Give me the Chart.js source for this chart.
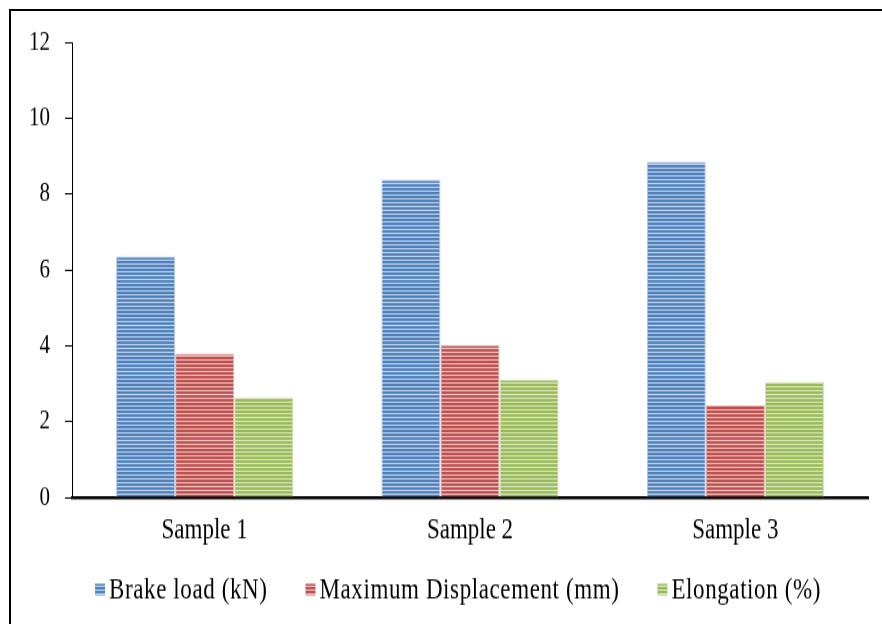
<!DOCTYPE html>
<html>
<head>
<meta charset="utf-8">
<script src="https://cdn.jsdelivr.net/npm/chart.js@4.4.1/dist/chart.umd.min.js"></script>
<style>
  html, body { margin: 0; padding: 0; background: #ffffff; overflow: hidden; }
  #page { width: 882px; height: 624px; position: relative; overflow: hidden; }
  #plot { position: absolute; left: 0; top: 0; width: 882px; height: 488px;
          transform: scale(1, 1.2787); transform-origin: 0 0; }
  #frame { position: absolute; left: 9px; top: 9px; width: 900px; height: 700px;
           border-left: 2px solid #000; border-top: 2px solid #000; }
</style>
</head>
<body>
<div id="page">
  <div id="plot"><canvas id="chart" width="882" height="488"></canvas></div>
  <div id="frame"></div>
</div>
<script>
// Test results per sample
const categories = ['Sample 1', 'Sample 2', 'Sample 3'];
const seriesNames = ['Brake load (kN)', 'Maximum Displacement (mm)', 'Elongation (%)'];
const brakeLoad = [6.35, 8.38, 8.85];
const maxDisplacement = [3.79, 4.02, 2.43];
const elongation = [2.65, 3.11, 3.05];
const yTicks = [0, 2, 4, 6, 8, 10, 12];

// Horizontal-stripe fill used for every bar
function stripes(dark, light) {
  const c = document.createElement('canvas');
  c.width = 8; c.height = 3;
  const g = c.getContext('2d');
  g.fillStyle = light; g.fillRect(0, 0, 8, 3);
  g.fillStyle = dark; g.fillRect(0, 0, 8, 2);
  return g.createPattern(c, 'repeat');
}

const fills = [
  stripes('#4f81bd', '#c3d5ec'),
  stripes('#c0504d', '#ecc3c2'),
  stripes('#9bbb59', '#dce8c2')
];
const edges = ['#b4cae6', '#e6b3b1', '#d2e2b4'];

const serif = '"Liberation Serif", "Times New Roman", serif';

// Single-row legend under the axis: small striped square, then the series name
const legendRow = {
  id: 'legendRow',
  afterDraw(chart) {
    const ctx = chart.ctx;
    const sets = chart.data.datasets;
    const boxW = 10, boxH = 9, gap = 4, spacing = 38;
    const cy = 461;
    ctx.save();
    ctx.font = '23px ' + serif;
    if ('letterSpacing' in ctx) ctx.letterSpacing = '0.6px';
    const widths = sets.map(d => ctx.measureText(d.label).width);
    const total = widths.reduce((a, w) => a + boxW + gap + w, 0) + spacing * (sets.length - 1);
    let x = 458 - total / 2;
    ctx.textBaseline = 'middle';
    ctx.textAlign = 'left';
    sets.forEach((d, i) => {
      ctx.fillStyle = d.backgroundColor;
      ctx.fillRect(x, cy - boxH / 2, boxW, boxH);
      x += boxW + gap;
      ctx.fillStyle = '#000000';
      ctx.fillText(d.label, x, cy + 1);
      x += widths[i] + spacing;
    });
    ctx.restore();
  }
};

new Chart(document.getElementById('chart'), {
  type: 'bar',
  data: {
    labels: categories,
    datasets: [brakeLoad, maxDisplacement, elongation].map((vals, i) => ({
      label: seriesNames[i],
      data: vals,
      backgroundColor: fills[i],
      borderColor: edges[i],
      borderWidth: 1,
      categoryPercentage: 0.668,
      barPercentage: 1.0
    }))
  },
  options: {
    responsive: false,
    animation: false,
    devicePixelRatio: 1,
    layout: { padding: { top: 33, right: 14, left: 0, bottom: 5 } },
    plugins: {
      tooltip: { enabled: false },
      legend: { display: false }
    },
    scales: {
      x: {
        grid: { display: false, drawTicks: false },
        border: { display: true, color: '#000000', width: 2.4 },
        ticks: { font: { family: serif, size: 23 }, color: '#000000', padding: 12 },
        afterFit(s) { s.height = 94; }
      },
      y: {
        min: 0,
        max: 12,
        afterBuildTicks(s) { s.ticks = yTicks.map(v => ({ value: v })); },
        grid: { drawOnChartArea: false, drawTicks: true, tickLength: 7, color: '#000000' },
        border: { display: true, color: '#000000', width: 1 },
        ticks: { font: { family: serif, size: 21 }, color: '#000000', padding: 15 },
        afterFit(s) { s.width = 72; }
      }
    }
  },
  plugins: [legendRow]
});
</script>
</body>
</html>
